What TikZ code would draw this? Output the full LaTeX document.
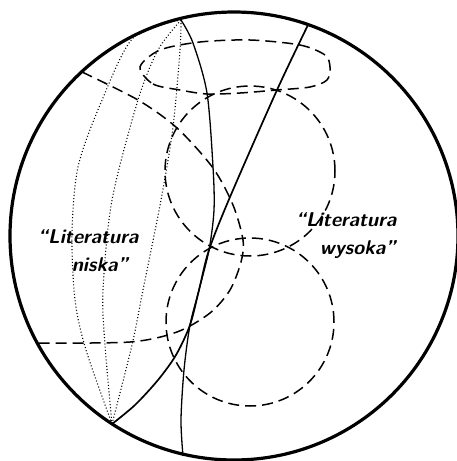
\documentclass[tikz,border=0pt]{standalone}
\usepackage{fontspec}

\tikzstyle{rim} = [line width=3.2pt]
\tikzstyle{arc} = [line width=1.3pt]
\tikzstyle{zone} = [line width=1.5pt, dash pattern=on 11pt off 6pt]
\tikzstyle{meridian} = [line width=1.1pt, dash pattern=on 1pt off 2.2pt]
\tikzstyle{lit} = [font=\fontsize{20}{28}\selectfont\sffamily\bfseries\itshape, align=center, inner sep=0pt]

\begin{document}
\begin{tikzpicture}[x=1pt, y=-1pt]
\useasboundingbox (0,0) rectangle (457,461);
\coordinate (top) at (181,20);
\coordinate (bot) at (112,424);
\coordinate (c1) at (250,171);
\coordinate (c2) at (250,322);

\draw[zone] plot[smooth cycle] coordinates {(140,67) (153,84) (180,90) (207,94) (240,93) (277,90) (310,87) (327,80) (330,67) (325,55) (300,45) (250,40) (200,42) (160,50)};
\draw[zone] (c1) circle[radius=85pt];
\draw[zone] (c2) circle[radius=84pt];
\draw[zone] plot[smooth] coordinates {(82,72) (138,100) (177,128) (213,168) (233,205) (243,240) (241,262) (230,290) (210,313) (177,332) (130,342) (38,343)};

\draw[meridian] plot[smooth] coordinates {(top) (133,38) (100,105) (78,167) (72,233) (75,300) (86,350) (bot)};
\draw[meridian] plot[smooth] coordinates {(top) (158,50) (138,100) (112,200) (103,290) (105,345) (bot)};
\draw[meridian] plot[smooth] coordinates {(top) (180,50) (173,127) (161,200) (143,290) (132,345) (bot)};

\draw[arc] plot[smooth] coordinates {(top) (193,43) (207,93) (213,167) (214,210) (209,250) (199,290) (190,325) (184,370) (181,420) (183,456)};
\draw[arc, line width=1.7pt] plot[smooth] coordinates {(308,25) (277,90) (230,197) (209,250) (199,290) (190,325) (176,355) (158,380) (135,405) (bot)};

\draw[rim] (234,236) circle[radius=224pt];

\node[lit] (niska) at (88,251) {“Literatura\\\hspace*{1.2em}niska”};
\node[lit] (wysoka) at (346,236) {“Literatura\\\hspace*{1.2em}wysoka”};
\end{tikzpicture}
\end{document}
